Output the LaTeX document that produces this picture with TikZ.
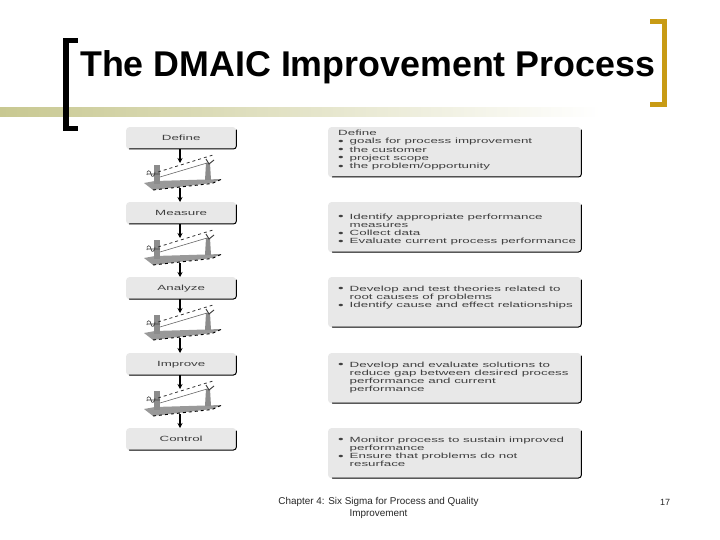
\documentclass[tikz,border=0pt]{standalone}
\usepackage{fontspec}
\setmainfont{Liberation Sans}
\newfontfamily\widefont[FakeStretch=1.78]{Liberation Sans}
\usepackage{xcolor}
\usepackage{tikz}
\usetikzlibrary{arrows.meta}
\definecolor{BarOlive}{RGB}{200,200,145}
\definecolor{BracketGold}{RGB}{200,155,20}
\definecolor{BoxGray}{RGB}{232,232,232}
\tikzset{
  stagebox/.style={draw=none,fill=BoxGray,rounded corners=3pt,minimum width=110pt,minimum height=22pt,inner sep=0pt,anchor=north west,font=\widefont\fontsize{7.5pt}{8pt}\selectfont,text=black!75},
  notebox/.style={draw=none,fill=BoxGray,rounded corners=3pt,minimum width=253pt,minimum height=50pt,inner sep=0pt,anchor=north west},
  notetext/.style={anchor=north west,inner sep=0pt,align=left,font=\widefont\fontsize{7.5pt}{8.2pt}\selectfont,text=black!75},
  stagearrow/.style={-{Stealth[length=5pt,width=5pt]},line width=1.1pt},
  edgeshade/.style={line width=1pt,line cap=round},
}
\newcommand{\notebul}{\makebox[11.5pt][l]{\raisebox{-0.6pt}{\fontsize{9pt}{0pt}\selectfont •}}}
\newcommand{\notegap}{\hspace*{11.5pt}}
% one gate between two stages, origin at the top middle of the gap
\newcommand{\gatepic}[2]{
  \begin{scope}[shift={(#1,#2)}]
    \fill[black!40] (-36,34) -- (-25,32) -- (42,30) -- (32,34) -- (-27,41) -- cycle;
    \draw[black,line width=0.9pt,dashed] (-27,41) -- (32,34.5) -- (42,30);
    \fill[black!45] (-26,16) -- (-20,16) -- (-20,35) -- (-26,35) -- cycle;
    \fill[black!45] (26,14) -- (30,14) -- (31,31) -- (25,31) -- cycle;
    \draw[black!75,line width=1pt] (26,10) -- (29,15) -- (34,11);
    \draw[black!75,line width=0.6pt] (-33,26) .. controls (-34,20) and (-29,21) .. (-29,25) .. controls (-29,29) and (-25,28) .. (-25,23) (-33,25) -- (-20,25);
    \draw[black!80,line width=0.8pt,dashed] (-22,23) -- (33,6);
    \draw[black!60,line width=0.6pt] (-20,28) -- (27,14);
  \end{scope}
}
\begin{document}
\begin{tikzpicture}[x=1pt,y=-1pt]
  \useasboundingbox (0,0) rectangle (720,540);
  \shade[left color=BarOlive,right color=white] (0,108) rectangle (600,117);
  \fill (63,38) rectangle (78,43);
  \fill (63,38) rectangle (69,131);
  \fill (63,126) rectangle (78,131);
  \fill[BracketGold] (650,19) rectangle (667,24);
  \fill[BracketGold] (662,19) rectangle (667,107);
  \fill[BracketGold] (650,102) rectangle (667,107);
  \node[anchor=west,inner sep=0pt,font=\bfseries\fontsize{35.8pt}{40pt}\selectfont] (title) at (80,67) {The DMAIC Improvement Process};
  % left column
  \node[stagebox] (define) at (126,127) {Define};
  \node[stagebox] (measure) at (126,202) {Measure};
  \node[stagebox] (analyze) at (126,277) {Analyze};
  \node[stagebox] (improve) at (126,353) {Improve};
  \node[stagebox] (control) at (126,428) {Control};
  \foreach \stage in {define,measure,analyze,improve,control}
    \draw[edgeshade] (\stage.north east) ++(0,3) -- ++(0,16) arc(0:90:3) -- ++(-104,0);
  \foreach \upper/\lower/\gy in {define/measure/149,measure/analyze/224,analyze/improve/299,improve/control/375}{
    \gatepic{180}{\gy}
    \coordinate (\upper-a) at (180,\gy+14);
    \coordinate (\lower-b) at (180,\gy+39);
    \draw[stagearrow] (\upper.south -| \upper-a) -- (\upper-a);
    \draw[stagearrow] (\lower-b) -- (\lower.north -| \lower-b);
  }
  % right column
  \node[notebox] (note1) at (328,127) {};
  \node[notebox] (note2) at (328,202) {};
  \node[notebox] (note3) at (328,277) {};
  \node[notebox] (note4) at (328,353) {};
  \node[notebox] (note5) at (328,428) {};
  \foreach \note in {note1,note2,note3,note4,note5}
    \draw[edgeshade] (\note.north east) ++(0,3) -- ++(0,44) arc(0:90:3) -- ++(-246,0);
  \node[notetext] (text1) at (338,130) {Define\\
    \notebul goals for process improvement\\ \notebul the customer\\ \notebul project scope\\ \notebul the problem/opportunity};
  \node[notetext] (text2) at (338,213.5) {\notebul Identify appropriate performance\\ \notegap measures\\ \notebul Collect data\\ \notebul Evaluate current process performance};
  \node[notetext] (text3) at (338,285.5) {\notebul Develop and test theories related to\\ \notegap root causes of problems\\ \notebul Identify cause and effect relationships};
  \node[notetext] (text4) at (338,361.5) {\notebul Develop and evaluate solutions to\\ \notegap reduce gap between desired process\\ \notegap performance and current\\ \notegap performance};
  \node[notetext] (text5) at (338,436.5) {\notebul Monitor process to sustain improved\\ \notegap performance\\ \notebul Ensure that problems do not\\ \notegap resurface};
  % footer
  \node[inner sep=0pt,align=center,font=\fontsize{9.9pt}{12pt}\selectfont,text=black!85] (footer) at (378.5,508) {Chapter 4: Six Sigma for Process and Quality\\Improvement};
  \node[inner sep=0pt,font=\fontsize{9pt}{12pt}\selectfont,text=black!85] (pagenum) at (665,502) {17};
\end{tikzpicture}
\end{document}
